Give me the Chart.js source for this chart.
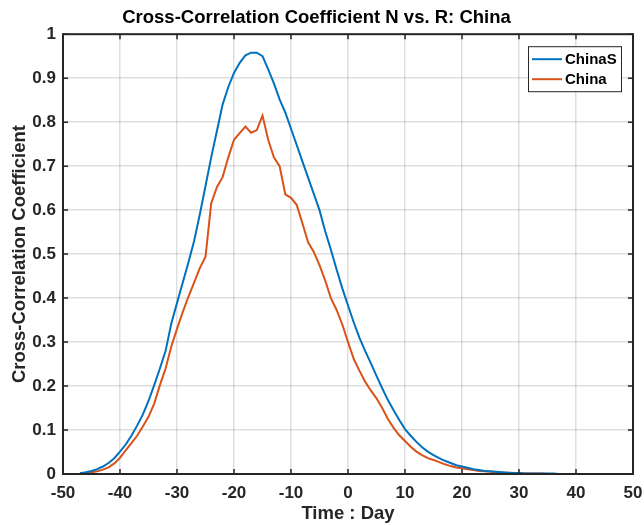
<!DOCTYPE html>
<html lang="en">
<head>
    <meta charset="UTF-8">
    <title>Cross-Correlation Coefficient N vs. R: China</title>
    <script src="https://cdn.jsdelivr.net/npm/chart.js"></script>
    <style>
        body { margin: 0; padding: 0; background: #ffffff; }
        #wrap { width: 644px; height: 525px; }
    </style>
</head>
<body>
<div id="wrap"><canvas id="ccChart" width="644" height="525"></canvas></div>
<script>
// lag in days
var days = [];
for (var d = -47; d <= 47; d++) days.push(d);

// ChinaS (-47 .. 47)
var chinaS = [
    0.002, 0.004, 0.007, 0.011, 0.017, 0.025, 0.036, 0.051, 0.067, 0.087,   // -47..-38
    0.110, 0.135, 0.166, 0.202, 0.240, 0.280, 0.342, 0.389, 0.435, 0.481,   // -37..-28
    0.530, 0.590, 0.655, 0.720, 0.780, 0.840, 0.880, 0.912, 0.935, 0.952,   // -27..-18
    0.958, 0.958, 0.950, 0.920, 0.888, 0.852, 0.822, 0.785, 0.748, 0.711,   // -17..-8
    0.674, 0.637, 0.600, 0.552, 0.510, 0.465, 0.422, 0.383, 0.345, 0.310,   // -7..2
    0.280, 0.252, 0.223, 0.195, 0.168, 0.145, 0.123, 0.102, 0.087, 0.073,   // 3..12
    0.061, 0.051, 0.043, 0.036, 0.030, 0.025, 0.020, 0.017, 0.014, 0.011,   // 13..22
    0.009, 0.007, 0.006, 0.005, 0.004, 0.003, 0.002, 0.002, 0.001, 0.001,   // 23..32
    0.001, 0.001, 0.001, 0.001, 0.000, 0.000, 0.000, 0.000, 0.000, 0.000,   // 33..42
    0.000, 0.000, 0.000, 0.000, 0.000                                       // 43..47
];

// China
var china = [
    0.001, 0.002, 0.004, 0.006, 0.010, 0.015, 0.024, 0.037, 0.054, 0.070,   // -47..-38
    0.087, 0.108, 0.130, 0.160, 0.202, 0.240, 0.290, 0.330, 0.368, 0.403,   // -37..-28
    0.435, 0.468, 0.494, 0.615, 0.652, 0.675, 0.720, 0.760, 0.775, 0.790,   // -27..-18
    0.776, 0.782, 0.815, 0.760, 0.720, 0.700, 0.636, 0.628, 0.612, 0.570,   // -17..-8
    0.527, 0.505, 0.475, 0.440, 0.400, 0.373, 0.340, 0.300, 0.262, 0.235,   // -7..2
    0.210, 0.190, 0.172, 0.150, 0.125, 0.105, 0.088, 0.075, 0.062, 0.051,   // 3..12
    0.043, 0.036, 0.032, 0.027, 0.022, 0.018, 0.015, 0.013, 0.011, 0.009,   // 13..22
    0.007, 0.006, 0.005, 0.004, 0.003, 0.003, 0.002, 0.002, 0.001, 0.001,   // 23..32
    0.001, 0.001, 0.000, 0.000, 0.000, 0.000, 0.000, 0.000, 0.000, 0.000,   // 33..42
    0.000, 0.000, 0.000, 0.000, 0.000                                       // 43..47
];

var seriesNames = ['ChinaS', 'China'];
var xTicks = [-50, -40, -30, -20, -10, 0, 10, 20, 30, 40, 50];
var yTicks = [0, 0.1, 0.2, 0.3, 0.4, 0.5, 0.6, 0.7, 0.8, 0.9, 1];

var FONT = "'Liberation Sans', Arial, sans-serif";
var AXIS = '#262626';

function toPoints(vals) {
    return days.map(function (x, i) { return { x: x, y: vals[i] }; });
}

// MATLAB-like box, inward ticks and legend
var matlabAxes = {
    id: 'matlabAxes',
    afterDatasetsDraw: function (chart) {
        var ctx = chart.ctx, a = chart.chartArea;
        var xs = chart.scales.x, ys = chart.scales.y;
        ctx.save();
        ctx.strokeStyle = AXIS;
        ctx.lineWidth = 1.5;
        ctx.beginPath();
        xTicks.forEach(function (v) {
            var px = xs.getPixelForValue(v);
            ctx.moveTo(px, a.bottom); ctx.lineTo(px, a.bottom - 5);
            ctx.moveTo(px, a.top); ctx.lineTo(px, a.top + 5);
        });
        yTicks.forEach(function (v) {
            var py = ys.getPixelForValue(v);
            ctx.moveTo(a.left, py); ctx.lineTo(a.left + 5, py);
            ctx.moveTo(a.right, py); ctx.lineTo(a.right - 5, py);
        });
        ctx.stroke();
        ctx.lineWidth = 2;
        ctx.strokeRect(a.left, a.top, a.right - a.left, a.bottom - a.top);

        // legend
        var bx = a.right - 105, by = a.top + 12, bw = 93, bh = 45;
        ctx.fillStyle = '#ffffff';
        ctx.fillRect(bx, by, bw, bh);
        ctx.lineWidth = 1;
        ctx.strokeRect(bx + 0.5, by + 0.5, bw, bh);
        ctx.font = 'bold 15px ' + FONT;
        ctx.textBaseline = 'middle';
        chart.data.datasets.forEach(function (ds, i) {
            var ly = by + 13 + i * 20;
            ctx.strokeStyle = ds.borderColor;
            ctx.lineWidth = 2;
            ctx.beginPath();
            ctx.moveTo(bx + 4, ly); ctx.lineTo(bx + 34, ly);
            ctx.stroke();
            ctx.fillStyle = '#000000';
            ctx.fillText(ds.label, bx + 37, ly + 1);
        });
        ctx.restore();
    }
};

var ctx = document.getElementById('ccChart').getContext('2d');
var ccChart = new Chart(ctx, {
    type: 'line',
    data: {
        datasets: [{
            label: seriesNames[0],
            data: toPoints(chinaS),
            borderColor: '#0072BD',
            borderWidth: 2,
            pointRadius: 0,
            tension: 0,
            fill: false
        }, {
            label: seriesNames[1],
            data: toPoints(china),
            borderColor: '#D95319',
            borderWidth: 2,
            pointRadius: 0,
            tension: 0,
            fill: false
        }]
    },
    options: {
        responsive: false,
        animation: false,
        layout: { padding: { top: 0, right: 11, bottom: 0, left: 0 } },
        plugins: {
            legend: { display: false },
            tooltip: { enabled: false },
            title: {
                display: true,
                text: 'Cross-Correlation Coefficient N vs. R: China',
                color: '#000000',
                font: { family: FONT, size: 18.5, weight: 'bold' },
                padding: { top: 7, bottom: 5 }
            }
        },
        scales: {
            x: {
                type: 'linear',
                min: -50,
                max: 50,
                afterBuildTicks: function (s) { s.ticks = xTicks.map(function (v) { return { value: v }; }); },
                afterFit: function (s) { s.height = 51; s.paddingLeft = 0; s.paddingRight = 0; },
                grid: { color: 'rgba(0,0,0,0.13)', lineWidth: 1.5, drawTicks: false },
                border: { display: false },
                ticks: {
                    padding: 9,
                    color: AXIS,
                    maxRotation: 0,
                    font: { family: FONT, size: 17, weight: 'bold' },
                    callback: function (v) { return String(v); }
                },
                title: {
                    display: true,
                    text: 'Time : Day',
                    color: AXIS,
                    font: { family: FONT, size: 18.5, weight: 'bold' },
                    padding: { top: 0, bottom: 0 }
                }
            },
            y: {
                min: 0,
                max: 1,
                afterBuildTicks: function (s) { s.ticks = yTicks.map(function (v) { return { value: v }; }); },
                afterFit: function (s) { s.width = 63; },
                grid: { color: 'rgba(0,0,0,0.13)', lineWidth: 1.5, drawTicks: false },
                border: { display: false },
                ticks: {
                    padding: 7,
                    color: AXIS,
                    font: { family: FONT, size: 17, weight: 'bold' },
                    callback: function (v) { return String(v); }
                },
                title: {
                    display: true,
                    text: 'Cross-Correlation Coefficient',
                    color: AXIS,
                    font: { family: FONT, size: 18.5, weight: 'bold' },
                    padding: { top: 9, bottom: 0 }
                }
            }
        }
    },
    plugins: [matlabAxes]
});
</script>
</body>
</html>
